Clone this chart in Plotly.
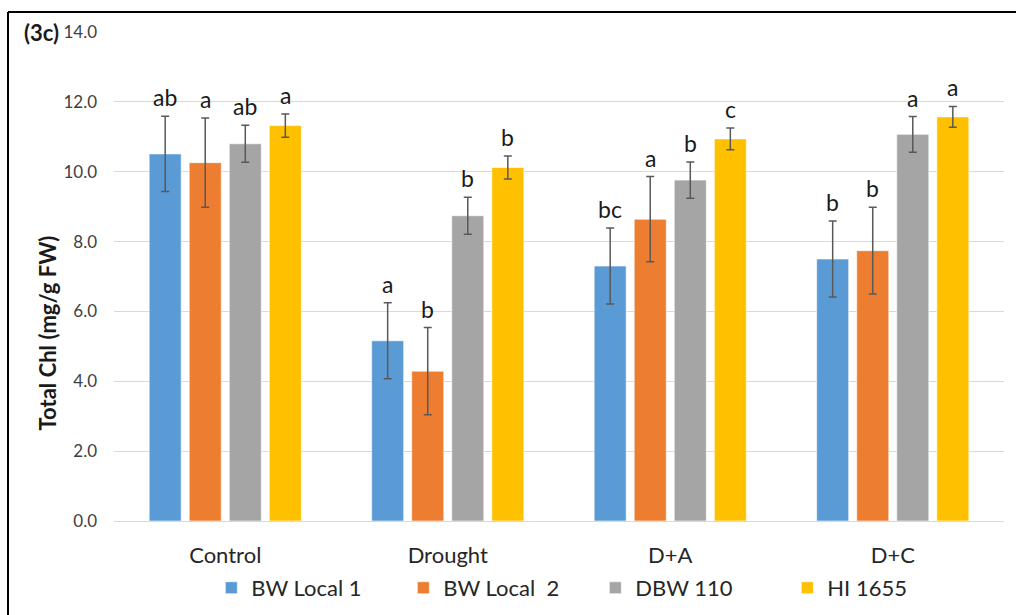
import plotly.graph_objects as go

categories = ["Control", "Drought", "D+A", "D+C"]
series_names = ["BW Local 1", "BW Local  2", "DBW 110", "HI 1655"]
colors = ["#5B9BD5", "#ED7D31", "#A5A5A5", "#FFC000"]

bw_local1 = [10.51, 5.16, 7.30, 7.50]
bw_local2 = [10.26, 4.29, 8.64, 7.74]
dbw110 = [10.80, 8.74, 9.76, 11.07]
hi1655 = [11.32, 10.12, 10.94, 11.57]

err_local1 = [1.08, 1.09, 1.09, 1.09]
err_local2 = [1.28, 1.25, 1.22, 1.24]
err_dbw110 = [0.53, 0.53, 0.52, 0.51]
err_hi1655 = [0.33, 0.33, 0.31, 0.30]

letters_local1 = ["ab", "a", "bc", "b"]
letters_local2 = ["a", "b", "a", "b"]
letters_dbw110 = ["ab", "b", "b", "a"]
letters_hi1655 = ["a", "b", "c", "a"]

values = [bw_local1, bw_local2, dbw110, hi1655]
errors = [err_local1, err_local2, err_dbw110, err_hi1655]
letters = [letters_local1, letters_local2, letters_dbw110, letters_hi1655]

FONT = "Lato, 'Open Sans', sans-serif"

fig = go.Figure()
for i, name in enumerate(series_names):
    fig.add_trace(go.Bar(
        name=name,
        x=categories,
        y=values[i],
        marker=dict(color=colors[i], line=dict(color="rgba(255,255,255,0.6)", width=1)),
        error_y=dict(type="data", array=errors[i], visible=True,
                     color="#595959", thickness=1.5, width=4),
        offsetgroup=str(i),
    ))

# Significance letters above error bars, positioned via the bar axis offsets
n = len(series_names)
group_frac = 1 - 0.28
slot = group_frac / n
annotations = []
for i in range(n):
    for j, cat in enumerate(categories):
        xoff = -group_frac / 2 + slot * (i + 0.5)
        annotations.append(dict(
            x=j + xoff, y=values[i][j] + errors[i][j],
            xref="x", yref="y", text=letters[i][j], showarrow=False,
            yanchor="bottom", yshift=3,
            font=dict(family=FONT, size=23, color="#1a1a1a"),
        ))

annotations.append(dict(
    x=-0.081, y=1.0, xref="paper", yref="paper", text="<b>(3c)</b>",
    showarrow=False, xanchor="center", yanchor="middle",
    font=dict(family=FONT, size=22, color="#1a1a1a"),
))
annotations.append(dict(
    x=-0.075, y=0.384, xref="paper", yref="paper", text="<b>Total Chl (mg/g FW)</b>",
    showarrow=False, textangle=-90, xanchor="center", yanchor="middle",
    font=dict(family=FONT, size=22, color="#1a1a1a"),
))

shapes = [
    dict(type="line", xref="paper", yref="paper", x0=-0.1191, x1=1.0135,
         y0=1.0409, y1=1.0409, line=dict(color="black", width=2)),
    dict(type="line", xref="paper", yref="paper", x0=-0.1191, x1=-0.1191,
         y0=1.0409, y1=-0.1922, line=dict(color="black", width=2)),
]

fig.update_layout(
    width=1016, height=615,
    margin=dict(l=114, r=12, t=32, b=94, autoexpand=False),
    paper_bgcolor="white", plot_bgcolor="white",
    barmode="group", bargap=0.28, bargroupgap=0.2,
    font=dict(family=FONT, color="#404040"),
    annotations=annotations,
    shapes=shapes,
    showlegend=True,
    legend=dict(orientation="h", xref="container", yref="container",
                x=0.208, xanchor="left", y=0.044, yanchor="middle",
                font=dict(family=FONT, size=22, color="#262626"),
                entrywidth=147, entrywidthmode="pixels",
                bgcolor="rgba(0,0,0,0)"),
    xaxis=dict(showgrid=False, showline=True, linecolor="#d9d9d9", linewidth=1,
               ticks="", tickfont=dict(family=FONT, size=22, color="#262626"),
               ticklabelstandoff=15),
    yaxis=dict(range=[0, 14], dtick=2, tickformat=".1f", showgrid=True,
               gridcolor="#d9d9d9", gridwidth=1, zeroline=False, showline=False,
               ticks="", tickfont=dict(family=FONT, size=17, color="#404040"),
               ticklabelstandoff=16),
)

fig.write_html("out.html", config={"displayModeBar": False},
               post_script="document.body.style.margin='0';document.body.style.padding='0';")
